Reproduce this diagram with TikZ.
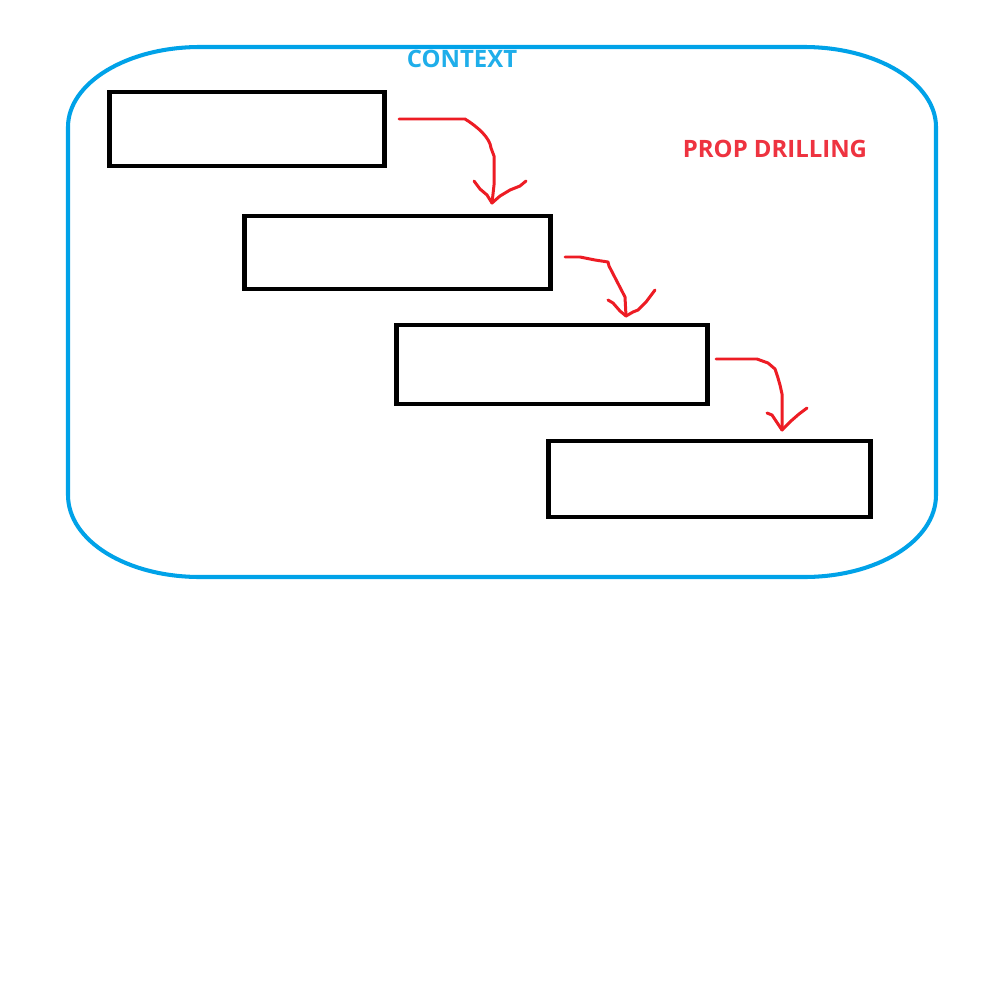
\documentclass[tikz,border=0pt]{standalone}
\usepackage{fontspec}
\setmainfont{Open Sans}
\definecolor{ctxblue}{HTML}{00A2E8}
\definecolor{ctxtext}{HTML}{1FAEEA}
\definecolor{arrred}{HTML}{ED1C24}
\definecolor{proptext}{HTML}{EE3340}
\begin{document}
\begin{tikzpicture}[x=0.01cm,y=-0.01cm,
  compbox/.style={draw=black,line width=1.4pt,minimum width=#1,inner sep=0pt,outer sep=0pt},
  handarrow/.style={draw=arrred,line width=0.85pt,line cap=round,line join=round},
  ctxline/.style={draw=ctxblue,line width=1.15pt},
  lbl/.style={font=\fontsize{6.8}{8}\selectfont\bfseries,inner sep=0pt}]
\useasboundingbox (0,0) rectangle (1000,1000);
\fill[white] (0,0) rectangle (1000,1000);
% context container
\draw[ctxline] (200,47) -- (804,47)
  .. controls (877,47) and (936,83) .. (936,127)
  -- (936,495)
  .. controls (936,541) and (877,577) .. (804,577)
  -- (200,577)
  .. controls (127,577) and (68,541) .. (68,495)
  -- (68,127)
  .. controls (68,83) and (127,47) .. (200,47) -- cycle;
\node[lbl,text=ctxtext] (ctx) at (462,59) {CONTEXT};
\node[lbl,text=proptext] (prop) at (775,149) {PROP DRILLING};
% components
\node[compbox=2.74cm,minimum height=0.74cm] (b1) at (247,129) {};
\node[compbox=3.05cm,minimum height=0.73cm] (b2) at (397.5,252.5) {};
\node[compbox=3.10cm,minimum height=0.79cm] (b3) at (552,364.5) {};
\node[compbox=3.21cm,minimum height=0.76cm] (b4) at (709.5,479) {};
% hand-drawn arrows
\coordinate (a1s) at (399,119);
\coordinate (a1e) at (492,203);
\draw[handarrow] (a1s) -- (465,119) .. controls (478,127) and (490,138) .. (491,148)
  -- (494,156) -- (494,185) -- (a1e);
\draw[handarrow] (474,181) -- (480,189) -- (487,195) -- (a1e);
\draw[handarrow] (526,181) -- (520,186) -- (510,190) -- (500,196) -- (a1e);
\coordinate (a2s) at (565,257);
\coordinate (a2e) at (626,316);
\draw[handarrow] (a2s) -- (580,257) -- (595,260) -- (608,262) -- (609,266) -- (625,297) -- (a2e);
\draw[handarrow] (608,300) -- (613,303) -- (620,311) -- (a2e);
\draw[handarrow] (655,290) -- (646,302) -- (638,310) -- (633,312) -- (a2e);
\coordinate (a3s) at (716,359);
\coordinate (a3e) at (782,430);
\draw[handarrow] (a3s) -- (757,359) -- (768,363) -- (775,369) -- (778,378) -- (780,385) -- (782,394) -- (a3e);
\draw[handarrow] (767,413) -- (772,415) -- (a3e);
\draw[handarrow] (807,408) -- (799,414) -- (791,421) -- (a3e);
\end{tikzpicture}
\end{document}
